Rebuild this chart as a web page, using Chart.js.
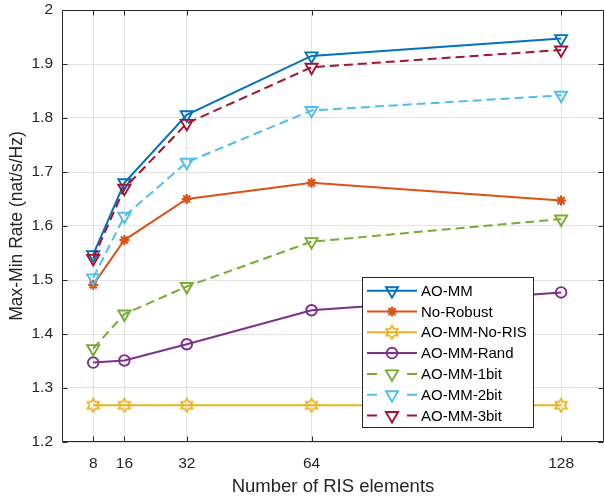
<!DOCTYPE html>
<html>
<head>
<meta charset="utf-8">
<script src="https://cdn.jsdelivr.net/npm/chart.js@4.4.0/dist/chart.umd.min.js"></script>
<style>
html, body { margin: 0; padding: 0; background: #fff; overflow: hidden; }
#wrap { width: 604px; height: 498px; }
</style>
</head>
<body>
<div id="wrap"><canvas id="chart" width="604" height="498"></canvas></div>
<script>
// data
const risElements = [8, 16, 32, 64, 128];
const aoMM      = [1.547, 1.680, 1.806, 1.915, 1.947];
const noRobust  = [1.491, 1.574, 1.650, 1.680, 1.647];
const aoMMNoRIS = [1.268, 1.268, 1.268, 1.268, 1.268];
const aoMMRand  = [1.347, 1.351, 1.381, 1.444, 1.477];
const aoMM1bit  = [1.373, 1.437, 1.488, 1.571, 1.613];
const aoMM2bit  = [1.504, 1.618, 1.718, 1.814, 1.842];
const aoMM3bit  = [1.540, 1.670, 1.790, 1.894, 1.926];

const xTicks = [8, 16, 32, 64, 128];
const yTicks = [1.2, 1.3, 1.4, 1.5, 1.6, 1.7, 1.8, 1.9, 2];

const FONT = "'Liberation Sans', Arial, Helvetica, sans-serif";
const AXIS_COLOR = '#262626';

// six-pointed star marker (MATLAB 'hexagram')
function hexagram(color) {
    const c = document.createElement('canvas');
    c.width = 16; c.height = 16;
    const g = c.getContext('2d');
    const R = 6.6, r = R / Math.sqrt(3);
    g.beginPath();
    for (let i = 0; i < 12; i++) {
        const a = -Math.PI / 2 + i * Math.PI / 6;
        const rad = i % 2 === 0 ? R : r;
        const px = 8 + rad * Math.cos(a), py = 8 + rad * Math.sin(a);
        if (i === 0) g.moveTo(px, py); else g.lineTo(px, py);
    }
    g.closePath();
    g.strokeStyle = color;
    g.lineWidth = 1.8;
    g.stroke();
    return c;
}

function series(label, values, color, style, dash) {
    const s = {
        label: label,
        data: risElements.map((x, i) => ({ x: x, y: values[i] })),
        borderColor: color,
        pointBorderColor: color,
        pointBackgroundColor: 'rgba(0,0,0,0)',
        borderWidth: 2,
        borderDash: dash ? [9, 5] : [],
        pointBorderWidth: 1.9,
        pointRadius: 7,
        pointHoverRadius: 7,
        pointStyle: 'triangle',
        pointRotation: 180,
        tension: 0,
        fill: false
    };
    if (style === 'star') { s.pointStyle = 'star'; s.pointRotation = 0; s.pointRadius = 5; s.pointBorderWidth = 2.2; }
    if (style === 'circle') { s.pointStyle = 'circle'; s.pointRotation = 0; s.pointRadius = 5.3; }
    if (style === 'hex') { s.pointStyle = hexagram(color); s.pointRotation = 0; }
    return s;
}

const datasets = [
    series('AO-MM', aoMM, '#0072BD', 'tri', false),
    series('No-Robust', noRobust, '#D95319', 'star', false),
    series('AO-MM-No-RIS', aoMMNoRIS, '#EDB120', 'hex', false),
    series('AO-MM-Rand', aoMMRand, '#7E2F8E', 'circle', false),
    series('AO-MM-1bit', aoMM1bit, '#77AC30', 'tri', true),
    series('AO-MM-2bit', aoMM2bit, '#4DBEEE', 'tri', true),
    series('AO-MM-3bit', aoMM3bit, '#A2142F', 'tri', true)
];
// later series on top, like MATLAB
datasets.forEach((d, i) => { d.order = datasets.length - i; });

// box around the axes with inward ticks
const frame = {
    id: 'frame',
    beforeDatasetsDraw(chart) {
        const { ctx, chartArea: a, scales } = chart;
        const L = a.left + 0.5, R = a.right - 0.5, T = a.top + 0.5, B = a.bottom - 0.5;
        ctx.save();
        ctx.strokeStyle = AXIS_COLOR;
        ctx.lineWidth = 1;
        ctx.beginPath();
        ctx.rect(L, T, R - L, B - T);
        xTicks.forEach(v => {
            const x = Math.round(scales.x.getPixelForValue(v)) + 0.5;
            ctx.moveTo(x, B); ctx.lineTo(x, B - 5);
            ctx.moveTo(x, T); ctx.lineTo(x, T + 5);
        });
        yTicks.forEach(v => {
            const y = Math.round(scales.y.getPixelForValue(v)) + 0.5;
            ctx.moveTo(L, y); ctx.lineTo(L + 5, y);
            ctx.moveTo(R, y); ctx.lineTo(R - 5, y);
        });
        ctx.stroke();
        ctx.restore();
    }
};

// legend box inside the plot, lower right
const boxLegend = {
    id: 'boxLegend',
    afterDatasetsDraw(chart) {
        const ctx = chart.ctx;
        const bx = 362.5, by = 277.5, bw = 171, bh = 150;
        const row0 = 290.7, step = 20.8;
        ctx.save();
        ctx.fillStyle = '#fff';
        ctx.fillRect(bx, by, bw, bh);
        ctx.strokeStyle = AXIS_COLOR;
        ctx.lineWidth = 1;
        ctx.strokeRect(bx, by, bw, bh);
        datasets.forEach((d, i) => {
            const y = row0 + i * step;
            ctx.strokeStyle = d.borderColor;
            ctx.lineWidth = 2;
            ctx.setLineDash([]);
            ctx.beginPath();
            if (d.borderDash.length) {
                ctx.moveTo(367, y); ctx.lineTo(377, y);
                ctx.moveTo(407, y); ctx.lineTo(417, y);
            } else {
                ctx.moveTo(367, y); ctx.lineTo(417, y);
            }
            ctx.stroke();
            ctx.lineWidth = d.pointBorderWidth;
            ctx.fillStyle = 'rgba(0,0,0,0)';
            Chart.helpers.drawPoint(ctx, {
                pointStyle: d.pointStyle,
                rotation: d.pointRotation,
                radius: d.pointRadius,
                borderWidth: d.pointBorderWidth
            }, 392, y);
            ctx.fillStyle = '#000';
            ctx.font = '15px ' + FONT;
            ctx.textBaseline = 'middle';
            ctx.textAlign = 'left';
            ctx.fillText(d.label, 421, y + 1);
        });
        ctx.restore();
    }
};

function noPad(s) {
    s.paddingTop = 0; s.paddingBottom = 0; s.paddingLeft = 0; s.paddingRight = 0;
}

new Chart(document.getElementById('chart'), {
    type: 'line',
    data: { datasets: datasets },
    options: {
        responsive: false,
        devicePixelRatio: 1,
        animation: false,
        events: [],
        layout: { autoPadding: false, padding: { top: 10, right: 0, left: 0, bottom: 0 } },
        plugins: { legend: { display: false }, tooltip: { enabled: false } },
        scales: {
            x: {
                type: 'linear',
                min: 0,
                max: 139,
                afterBuildTicks: s => { s.ticks = xTicks.map(v => ({ value: v })); },
                afterFit: s => { s.height = 56; noPad(s); },
                grid: { color: '#e3e3e3', drawTicks: false },
                border: { display: false },
                ticks: {
                    color: AXIS_COLOR,
                    font: { family: FONT, size: 15.5 },
                    padding: 12,
                    maxRotation: 0,
                    autoSkip: false,
                    callback: v => String(v)
                },
                title: {
                    display: true,
                    text: 'Number of RIS elements',
                    color: AXIS_COLOR,
                    font: { family: FONT, size: 18.5 },
                    padding: { top: 0, bottom: 0 }
                }
            },
            y: {
                min: 1.2,
                max: 2,
                afterBuildTicks: s => { s.ticks = yTicks.map(v => ({ value: v })); },
                afterFit: s => { s.width = 62; noPad(s); },
                grid: { color: '#e3e3e3', drawTicks: false },
                border: { display: false },
                ticks: {
                    color: AXIS_COLOR,
                    font: { family: FONT, size: 15.5 },
                    padding: 9,
                    autoSkip: false,
                    callback: v => String(Number(v.toFixed(1)))
                },
                title: {
                    display: true,
                    text: 'Max-Min Rate (nat/s/Hz)',
                    color: AXIS_COLOR,
                    font: { family: FONT, size: 17.5 },
                    padding: { top: 7, bottom: 0 }
                }
            }
        }
    },
    plugins: [frame, boxLegend]
});
</script>
</body>
</html>
